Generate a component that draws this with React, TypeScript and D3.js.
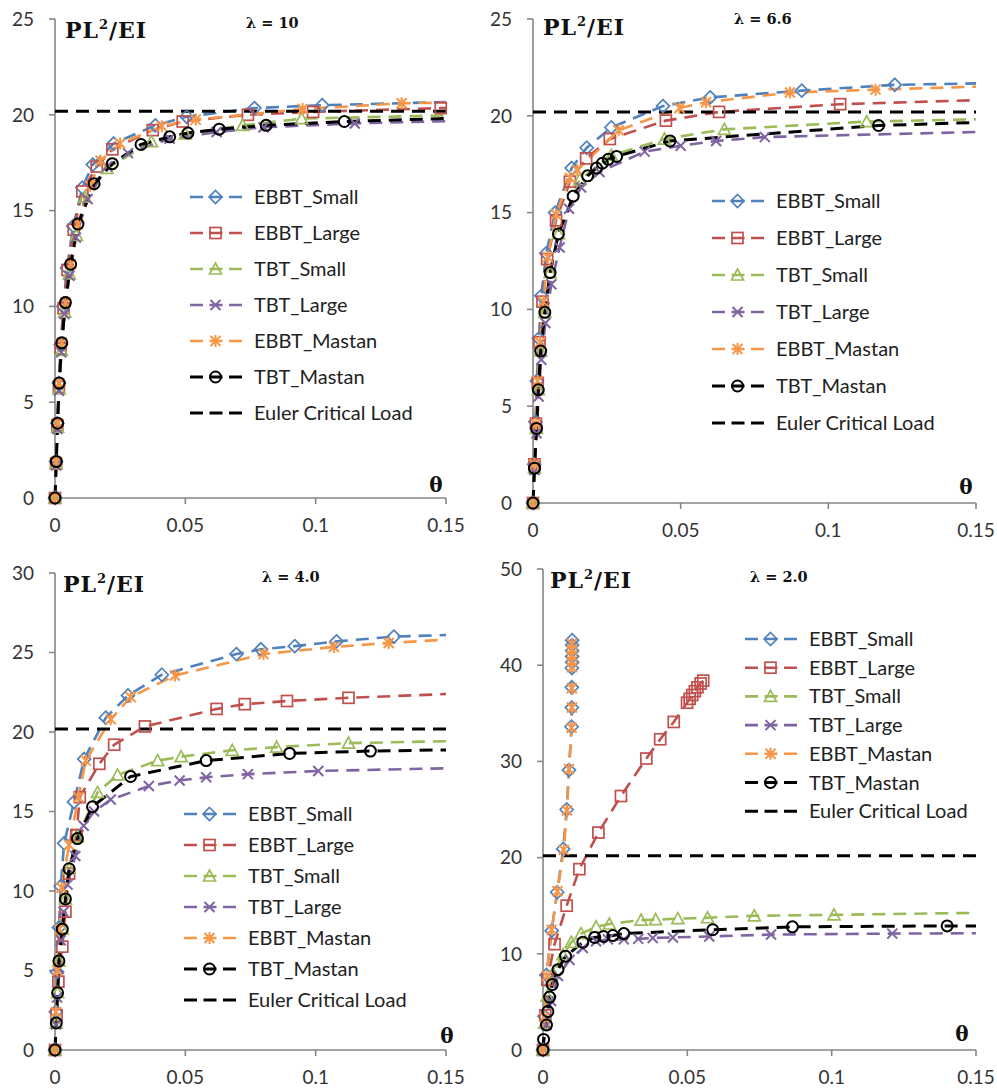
import React from "react";
import * as d3 from "d3";

type Pt = [number, number];

// ---- data (theta, PL^2/EI) ----
const seriesNames = [
  "EBBT_Small",
  "EBBT_Large",
  "TBT_Small",
  "TBT_Large",
  "EBBT_Mastan",
  "TBT_Mastan",
  "Euler Critical Load",
];
const eulerLoad = 20.19;
const thetaTicks = [0, 0.05, 0.1, 0.15];

// lambda = 10
const l10_ebbtSmall: Pt[] = [[0, 0], [0.0004, 1.9], [0.0009, 3.9], [0.0015, 6], [0.0022, 8], [0.0032, 10], [0.0046, 12], [0.007, 14.2], [0.0105, 16.2], [0.0145, 17.4], [0.0225, 18.5], [0.0385, 19.45], [0.0505, 19.9], [0.0765, 20.35], [0.1025, 20.5], [0.16, 20.7]];
const l10_ebbtLarge: Pt[] = [[0, 0], [0.0004, 1.8], [0.0009, 3.8], [0.0015, 5.8], [0.0022, 7.8], [0.0033, 9.9], [0.0048, 11.9], [0.0072, 14], [0.0105, 16], [0.016, 17.3], [0.022, 18.2], [0.0375, 19.2], [0.049, 19.65], [0.074, 20.0], [0.099, 20.15], [0.148, 20.35], [0.16, 20.4]];
const l10_tbtSmall: Pt[] = [[0, 0], [0.0005, 1.8], [0.001, 3.7], [0.0016, 5.7], [0.0025, 7.7], [0.0037, 9.7], [0.0055, 11.7], [0.0082, 13.7], [0.0115, 15.7], [0.02, 17.2], [0.037, 18.6], [0.05, 19.0], [0.072, 19.45], [0.0946, 19.8], [0.16, 20.0]];
const l10_tbtLarge: Pt[] = [[0, 0], [0.0004, 1.7], [0.0009, 3.6], [0.0015, 5.6], [0.0024, 7.6], [0.0036, 9.6], [0.0055, 11.6], [0.008, 13.6], [0.0125, 15.6], [0.02, 17.3], [0.028, 18.0], [0.044, 18.75], [0.062, 19.1], [0.08, 19.35], [0.115, 19.55], [0.16, 19.7]];
const l10_ebbtMastan: Pt[] = [[0, 0], [0.0005, 1.9], [0.001, 3.9], [0.0016, 6], [0.0026, 8.1], [0.004, 10.2], [0.006, 12.2], [0.0088, 14.3], [0.0135, 16.3], [0.0175, 17.6], [0.025, 18.5], [0.041, 19.4], [0.054, 19.75], [0.095, 20.3], [0.133, 20.6], [0.16, 20.65]];
const l10_tbtMastan: Pt[] = [[0, 0], [0.0005, 1.9], [0.001, 3.9], [0.0016, 6.0], [0.0026, 8.1], [0.004, 10.2], [0.006, 12.2], [0.0088, 14.3], [0.015, 16.4], [0.022, 17.45], [0.033, 18.45], [0.044, 18.85], [0.051, 19.05], [0.063, 19.25], [0.081, 19.45], [0.111, 19.65], [0.16, 19.85]];

// lambda = 6.6
const l66_ebbtSmall: Pt[] = [[0, 0], [0.0004, 2.0], [0.0008, 4.2], [0.0013, 6.3], [0.002, 8.5], [0.0028, 10.7], [0.0045, 12.9], [0.0075, 15.0], [0.0131, 17.3], [0.0182, 18.35], [0.0265, 19.4], [0.044, 20.5], [0.06, 20.95], [0.091, 21.3], [0.1225, 21.6], [0.16, 21.7]];
const l66_ebbtLarge: Pt[] = [[0, 0], [0.0005, 2], [0.001, 4.1], [0.0016, 6.2], [0.0022, 8.3], [0.0032, 10.4], [0.0048, 12.6], [0.0078, 14.6], [0.0125, 16.6], [0.018, 17.8], [0.026, 18.8], [0.045, 19.75], [0.063, 20.2], [0.104, 20.6], [0.16, 20.85]];
const l66_tbtSmall: Pt[] = [[0, 0], [0.0005, 1.8], [0.0012, 3.85], [0.0018, 5.85], [0.0026, 7.85], [0.004, 9.85], [0.0058, 11.9], [0.0086, 13.9], [0.0158, 16.7], [0.0265, 17.95], [0.0445, 18.8], [0.0648, 19.3], [0.113, 19.7], [0.16, 19.85]];
const l66_tbtLarge: Pt[] = [[0, 0], [0.0005, 1.7], [0.0012, 3.6], [0.0019, 5.5], [0.0028, 7.4], [0.0042, 9.3], [0.0062, 11.3], [0.009, 13.2], [0.0122, 15.2], [0.0163, 16.3], [0.0225, 17.1], [0.0378, 18.15], [0.05, 18.45], [0.062, 18.7], [0.0785, 18.9], [0.16, 19.2]];
const l66_ebbtMastan: Pt[] = [[0, 0], [0.0005, 2], [0.001, 4.1], [0.0016, 6.3], [0.0024, 8.3], [0.0035, 10.4], [0.005, 12.7], [0.0078, 14.9], [0.0125, 16.8], [0.015, 17.2], [0.029, 19.25], [0.0496, 20.4], [0.0586, 20.7], [0.087, 21.2], [0.116, 21.35], [0.16, 21.55]];
const l66_tbtMastan: Pt[] = [[0, 0], [0.0005, 1.8], [0.0012, 3.85], [0.0018, 5.85], [0.0026, 7.85], [0.004, 9.85], [0.0058, 11.9], [0.0086, 13.9], [0.0136, 15.85], [0.0185, 16.9], [0.0215, 17.3], [0.0235, 17.55], [0.0255, 17.75], [0.0283, 17.9], [0.0464, 18.7], [0.117, 19.5], [0.16, 19.7]];

// lambda = 4.0
const l40_ebbtSmall: Pt[] = [[0, 0], [0.0003, 2.4], [0.0008, 4.9], [0.0015, 7.7], [0.0022, 10.3], [0.0035, 13.0], [0.0073, 15.6], [0.0112, 18.3], [0.0195, 20.9], [0.028, 22.3], [0.041, 23.6], [0.0696, 24.9], [0.079, 25.2], [0.092, 25.4], [0.108, 25.7], [0.13, 26.0], [0.16, 26.15]];
const l40_ebbtLarge: Pt[] = [[0, 0], [0.0006, 2.2], [0.0013, 4.3], [0.0028, 6.5], [0.004, 8.7], [0.0054, 11.1], [0.0082, 13.5], [0.0095, 15.9], [0.017, 18.0], [0.0227, 19.2], [0.0345, 20.35], [0.062, 21.45], [0.0728, 21.75], [0.089, 21.95], [0.1126, 22.15], [0.16, 22.45]];
const l40_tbtSmall: Pt[] = [[0, 0], [0.0005, 1.7], [0.001, 3.6], [0.0015, 5.6], [0.0028, 7.6], [0.004, 9.5], [0.0054, 11.4], [0.0086, 13.4], [0.0163, 16.2], [0.024, 17.3], [0.0394, 18.2], [0.0484, 18.45], [0.068, 18.85], [0.085, 19.05], [0.1126, 19.3], [0.16, 19.45]];
const l40_tbtLarge: Pt[] = [[0, 0], [0.0004, 1.6], [0.0008, 3.3], [0.0014, 5.1], [0.0022, 6.9], [0.0033, 8.7], [0.0048, 10.4], [0.0078, 12.2], [0.011, 14.1], [0.015, 15.0], [0.0214, 15.75], [0.036, 16.6], [0.0478, 16.95], [0.058, 17.15], [0.074, 17.35], [0.101, 17.55], [0.16, 17.75]];
const l40_ebbtMastan: Pt[] = [[0, 0], [0.0004, 2.4], [0.0009, 5.0], [0.0016, 7.6], [0.0025, 10.2], [0.0054, 12.9], [0.009, 15.9], [0.0118, 18.2], [0.0214, 20.8], [0.029, 22.2], [0.046, 23.55], [0.08, 24.9], [0.107, 25.35], [0.128, 25.6], [0.16, 25.9]];
const l40_tbtMastan: Pt[] = [[0, 0], [0.0005, 1.7], [0.001, 3.6], [0.0015, 5.6], [0.0028, 7.6], [0.004, 9.5], [0.0054, 11.4], [0.0086, 13.3], [0.0144, 15.3], [0.029, 17.2], [0.058, 18.2], [0.09, 18.65], [0.121, 18.8], [0.16, 18.9]];

// lambda = 2.0
const l20_ebbtSmall: Pt[] = [[0, 0], [0.0005, 3.5], [0.0012, 7.8], [0.003, 12.4], [0.0049, 16.4], [0.007, 20.9], [0.0082, 25.0], [0.009, 29.1], [0.0099, 33.6], [0.01, 35.6], [0.01, 37.7], [0.01, 39.7], [0.0101, 40.3], [0.0101, 40.9], [0.0101, 41.5], [0.0101, 42.1], [0.0101, 42.6]];
const l20_ebbtLarge: Pt[] = [[0, 0], [0.0008, 3.6], [0.0015, 7.3], [0.004, 11.0], [0.0082, 15.0], [0.0126, 18.8], [0.0192, 22.6], [0.027, 26.4], [0.0358, 30.3], [0.0406, 32.3], [0.0453, 34.1], [0.0499, 36.1], [0.0508, 36.5], [0.0517, 36.9], [0.0526, 37.3], [0.0535, 37.7], [0.0546, 38.1], [0.0555, 38.4]];
const l20_tbtSmall: Pt[] = [[0, 0], [0.0006, 2.8], [0.0015, 5.6], [0.0035, 8.0], [0.0069, 9.9], [0.0098, 11.2], [0.0132, 12.1], [0.0184, 12.8], [0.023, 13.1], [0.034, 13.5], [0.039, 13.55], [0.0467, 13.65], [0.057, 13.75], [0.0732, 13.95], [0.1008, 14.05], [0.16, 14.3]];
const l20_tbtLarge: Pt[] = [[0, 0], [0.0012, 2.6], [0.0028, 5.1], [0.0052, 7.7], [0.0092, 9.35], [0.0138, 10.6], [0.0184, 11.3], [0.0225, 11.5], [0.028, 11.5], [0.033, 11.55], [0.038, 11.65], [0.045, 11.7], [0.0576, 11.8], [0.079, 12.0], [0.121, 12.1], [0.16, 12.15]];
const l20_ebbtMastan: Pt[] = [[0, 0], [0.0005, 3.4], [0.0013, 7.7], [0.003, 12.5], [0.005, 16.5], [0.0072, 20.8], [0.0083, 24.9], [0.009, 29.2], [0.0099, 33.5], [0.01, 35.6], [0.01, 37.6], [0.01, 39.8], [0.01, 40.4], [0.01, 41.0], [0.01, 41.6], [0.01, 42.2]];
const l20_tbtMastan: Pt[] = [[0, 0], [0.0002, 1.1], [0.0012, 2.6], [0.0017, 4.0], [0.0023, 5.5], [0.0032, 6.8], [0.0052, 8.35], [0.0078, 9.75], [0.0138, 11.2], [0.0179, 11.7], [0.021, 11.8], [0.0242, 11.9], [0.028, 12.1], [0.0588, 12.5], [0.0864, 12.8], [0.14, 12.9], [0.16, 12.9]];

// ---- styling ----
const seriesStyle = [
  { color: "#4F81BD", marker: "diamond", width: 2.6 },
  { color: "#C0504D", marker: "square", width: 2.6 },
  { color: "#9BBB59", marker: "triangle", width: 2.6 },
  { color: "#8064A2", marker: "x", width: 2.6 },
  { color: "#F79646", marker: "star", width: 2.6 },
  { color: "#000000", marker: "circle", width: 3 },
  { color: "#000000", marker: "none", width: 3 },
];
const DASH = "13 8";
const AXIS = "#868686";
const TICK_FONT = "Lato, 'Open Sans', sans-serif";
const SERIF = "'DejaVu Serif', serif";

const panels = [
  {
    lambda: "10", ymax: 25, step: 5,
    series: [l10_ebbtSmall, l10_ebbtLarge, l10_tbtSmall, l10_tbtLarge, l10_ebbtMastan, l10_tbtMastan],
    box: { left: 55, right: 446, top: 19, bottom: 498 },
    legend: { x: 190, y: 197, dy: 36 },
    title: { x: 65, y: 38 }, lam: { x: 246, y: 28 }, theta: { x: 436, y: 492 },
  },
  {
    lambda: "6.6", ymax: 25, step: 5,
    series: [l66_ebbtSmall, l66_ebbtLarge, l66_tbtSmall, l66_tbtLarge, l66_ebbtMastan, l66_tbtMastan],
    box: { left: 533, right: 976, top: 19, bottom: 503 },
    legend: { x: 712, y: 201, dy: 37 },
    title: { x: 543, y: 35 }, lam: { x: 734, y: 24 }, theta: { x: 966, y: 494 },
  },
  {
    lambda: "4.0", ymax: 30, step: 5,
    series: [l40_ebbtSmall, l40_ebbtLarge, l40_tbtSmall, l40_tbtLarge, l40_ebbtMastan, l40_tbtMastan],
    box: { left: 55, right: 446, top: 573, bottom: 1050 },
    legend: { x: 184, y: 814, dy: 31 },
    title: { x: 63, y: 592 }, lam: { x: 262, y: 582 }, theta: { x: 447, y: 1043 },
  },
  {
    lambda: "2.0", ymax: 50, step: 10,
    series: [l20_ebbtSmall, l20_ebbtLarge, l20_tbtSmall, l20_tbtLarge, l20_ebbtMastan, l20_tbtMastan],
    box: { left: 543, right: 976, top: 569, bottom: 1050 },
    legend: { x: 745, y: 639, dy: 28.7 },
    title: { x: 550, y: 588 }, lam: { x: 750, y: 582 }, theta: { x: 962, y: 1041 },
  },
];

function Marker({ type, color, cx, cy }: { type: string; color: string; cx: number; cy: number }) {
  const sw = 1.7;
  switch (type) {
    case "diamond":
      return <path d={`M${cx},${cy - 6.5}L${cx + 6.5},${cy}L${cx},${cy + 6.5}L${cx - 6.5},${cy}Z`} fill="none" stroke={color} strokeWidth={sw} />;
    case "square":
      return <rect x={cx - 5.5} y={cy - 5.5} width={11} height={11} fill="none" stroke={color} strokeWidth={sw} />;
    case "triangle":
      return <path d={`M${cx},${cy - 6}L${cx + 6},${cy + 5}L${cx - 6},${cy + 5}Z`} fill="none" stroke={color} strokeWidth={sw} />;
    case "x":
      return <path d={`M${cx - 5},${cy - 5}L${cx + 5},${cy + 5}M${cx - 5},${cy + 5}L${cx + 5},${cy - 5}`} stroke={color} strokeWidth={2} />;
    case "star":
      return <path d={`M${cx - 5},${cy - 5}L${cx + 5},${cy + 5}M${cx - 5},${cy + 5}L${cx + 5},${cy - 5}M${cx},${cy - 6}L${cx},${cy + 6}`} stroke={color} strokeWidth={2} />;
    case "circle":
      return <circle cx={cx} cy={cy} r={5.5} fill="none" stroke={color} strokeWidth={2} />;
    default:
      return null;
  }
}

function Panel({ p, idx }: { p: (typeof panels)[number]; idx: number }) {
  const { box } = p;
  const x = d3.scaleLinear().domain([0, 0.15]).range([box.left, box.right]);
  const y = d3.scaleLinear().domain([0, p.ymax]).range([box.bottom, box.top]);
  const line = d3.line<Pt>().x((d) => x(d[0])).y((d) => y(d[1]));
  const yTicks = d3.range(0, p.ymax + 0.001, p.step);
  const clipId = `clip${idx}`;
  const sample = 52;

  return (
    <g>
      <defs>
        <clipPath id={clipId}>
          <rect x={box.left - 10} y={box.top - 10} width={box.right - box.left + 10} height={box.bottom - box.top + 20} />
        </clipPath>
      </defs>

      {/* axes */}
      <line x1={x(0)} x2={x(0)} y1={y(p.ymax)} y2={y(0)} stroke={AXIS} strokeWidth={1.6} />
      <line x1={x(0)} x2={x(0.15)} y1={y(0)} y2={y(0)} stroke={AXIS} strokeWidth={1.6} />
      {yTicks.map((t) => (
        <g key={`y${t}`}>
          <line x1={x(0) - 6} x2={x(0)} y1={y(t)} y2={y(t)} stroke={AXIS} strokeWidth={1.6} />
          <text x={x(0) - 21} y={y(t)} dy="0.36em" textAnchor="end" fontFamily={TICK_FONT} fontSize={19} fill="#333">
            {t}
          </text>
        </g>
      ))}
      {thetaTicks.map((t) => (
        <g key={`x${t}`}>
          <line x1={x(t)} x2={x(t)} y1={y(0)} y2={y(0) + 6} stroke={AXIS} strokeWidth={1.6} />
          <text x={x(t)} y={y(0) + 34} textAnchor="middle" fontFamily={TICK_FONT} fontSize={19} fill="#333">
            {String(t)}
          </text>
        </g>
      ))}

      {/* series */}
      <g clipPath={`url(#${clipId})`}>
        {p.series.map((s, i) => (
          <path key={`l${i}`} d={line(s) || ""} fill="none" stroke={seriesStyle[i].color} strokeWidth={seriesStyle[i].width} strokeDasharray={DASH} />
        ))}
        <path
          d={line([[0, eulerLoad], [0.15, eulerLoad]]) || ""}
          fill="none" stroke="#000" strokeWidth={3} strokeDasharray={DASH}
        />
      </g>
      {p.series.map((s, i) => (
        <g key={`m${i}`}>
          {s.filter((d) => d[0] <= 0.15).map((d, j) => (
            <Marker key={j} type={seriesStyle[i].marker} color={seriesStyle[i].color} cx={x(d[0])} cy={y(d[1])} />
          ))}
        </g>
      ))}

      {/* labels */}
      <text x={p.title.x} y={p.title.y} fontFamily={SERIF} fontWeight="bold" fontSize={22} letterSpacing={1} fill="#111">
        PL<tspan fontSize={13} dy={-9}>2</tspan>
        <tspan dy={9}>/EI</tspan>
      </text>
      <text x={p.lam.x} y={p.lam.y} fontFamily={SERIF} fontWeight="bold" fontSize={14.5} fill="#111">
        {`λ = ${p.lambda}`}
      </text>
      <text x={p.theta.x} y={p.theta.y} textAnchor="middle" fontFamily={SERIF} fontWeight="bold" fontSize={20} fill="#111">
        θ
      </text>

      {/* legend */}
      {seriesNames.map((name, i) => {
        const ly = p.legend.y + i * p.legend.dy;
        const st = seriesStyle[i];
        return (
          <g key={name}>
            <line x1={p.legend.x} x2={p.legend.x + sample} y1={ly} y2={ly} stroke={st.color} strokeWidth={st.width} strokeDasharray="13 6.5" />
            <Marker type={st.marker} color={st.color} cx={p.legend.x + 25.5} cy={ly} />
            <text x={p.legend.x + 64} y={ly} dy="0.35em" fontFamily={TICK_FONT} fontSize={20} fill="#222">
              {name}
            </text>
          </g>
        );
      })}
    </g>
  );
}

export default function App() {
  return (
    <svg width={997} height={1091} style={{ position: "absolute", left: 0, top: 0, background: "#fff" }}>
      {panels.map((p, i) => (
        <Panel key={p.lambda} p={p} idx={i} />
      ))}
    </svg>
  );
}
